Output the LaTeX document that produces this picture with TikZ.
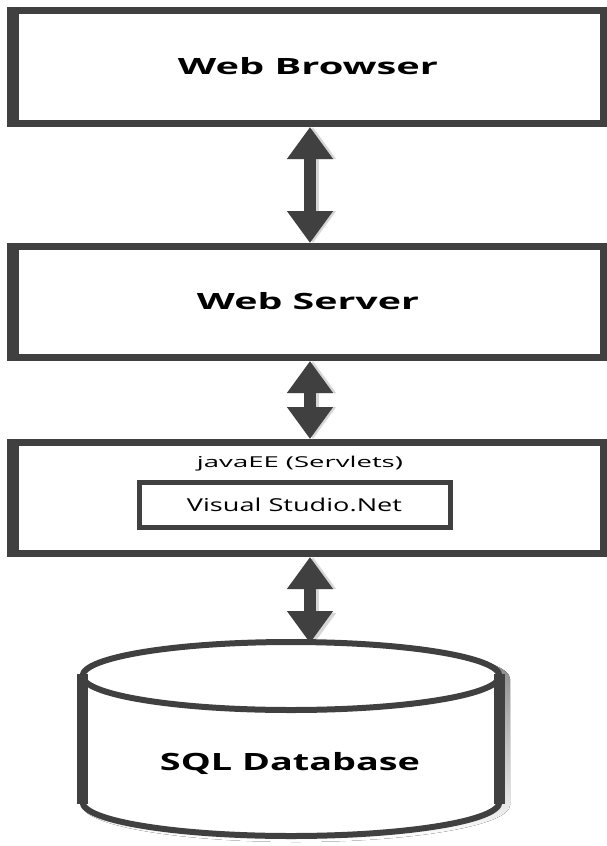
\documentclass[tikz,border=0pt]{standalone}
\usepackage{fontspec}
\usepackage{graphicx}
\setmainfont{Open Sans}
\usetikzlibrary{arrows.meta}
\definecolor{ink}{HTML}{404040}
\definecolor{shade}{HTML}{D6D6D6}
\newcommand\wtext[3]{\resizebox{#1}{\height}{\fontsize{#2}{#2}\selectfont #3}}
\begin{document}
\begin{tikzpicture}[x=1pt,y=-1pt,
  tier/.style={draw=ink, line width=7pt, fill=white, minimum width=593pt, inner sep=0pt},
  innerbox/.style={draw=ink, line width=5pt, fill=white, minimum width=311pt, minimum height=45pt, inner sep=0pt},
  txt/.style={inner sep=0pt, anchor=base, text=black},
  link/.style={draw=ink, line width=12pt, {Triangle[length=32pt,width=44pt]}-{Triangle[length=32pt,width=44pt]}},
  linkshadow/.style={link, draw=shade}
]
\useasboundingbox (0,0) rectangle (607,846);
\fill[white] (0,0) rectangle (607,846);

% coordinates for boxes (centres)
\coordinate (dbtop) at (310,643);

% arrow shadows
\draw[linkshadow] (313,127) -- (313,243);
\draw[linkshadow] (313,361) -- (313,439);
\draw[linkshadow] (313,557) -- (313,645);

% cylinder shadow
\begin{scope}[shift={(5,3)}]
  \fill[shade] (77,676) -- (77,802) arc[start angle=180, end angle=0, x radius=214, y radius=37] -- (505,676) arc[start angle=0, end angle=-180, x radius=214, y radius=37] -- cycle;
\end{scope}

% tiers
\node[tier, minimum height=113pt] (wb) at (307,67) {};
\draw[ink, line width=12pt] ([xshift=6pt]wb.north west) -- ([xshift=6pt]wb.south west);
\node[tier, minimum height=111pt] (ws) at (307,302) {};
\draw[ink, line width=12pt] ([xshift=6pt]ws.north west) -- ([xshift=6pt]ws.south west);
\node[tier, minimum height=111pt] (jv) at (307,498) {};
\draw[ink, line width=12pt] ([xshift=6pt]jv.north west) -- ([xshift=6pt]jv.south west);
\node[innerbox] (vs) at (295,505) {};

% cylinder
\fill[white] (82.5,676) -- (82.5,802) arc[start angle=180, end angle=0, x radius=208.5, y radius=34] -- (499.5,676) arc[start angle=0, end angle=-180, x radius=208.5, y radius=34] -- cycle;
\draw[ink, line width=11pt] (82.5,674) -- (82.5,804);
\draw[ink, line width=11pt] (499.5,674) -- (499.5,804);
\draw[ink, line width=6pt] (82.5,802) arc[start angle=180, end angle=0, x radius=208.5, y radius=34];
\draw[ink, line width=6pt] (291,676) ellipse[x radius=208.5, y radius=34];

% texts
\node[txt] (twb) at (308,74) {\wtext{260pt}{22.4pt}{\bfseries Web Browser}};
\node[txt] (tws) at (308,309) {\wtext{222pt}{22.4pt}{\bfseries Web Server}};
\node[txt] (tjv) at (300,467) {\wtext{206pt}{15pt}{javaEE (Servlets)}};
\node[txt] (tvs) at (294.5,511) {\wtext{215pt}{17.8pt}{Visual Studio.Net}};
\node[txt] (db) at (290,770) {\wtext{260pt}{23.8pt}{\bfseries SQL Database}};

% connectors
\draw[link] ([xshift=3pt]wb.south) -- ([xshift=3pt]ws.north);
\draw[link] ([xshift=3pt]ws.south) -- ([xshift=3pt]jv.north);
\draw[link] ([xshift=3pt]jv.south) -- (dbtop);
\end{tikzpicture}
\end{document}
